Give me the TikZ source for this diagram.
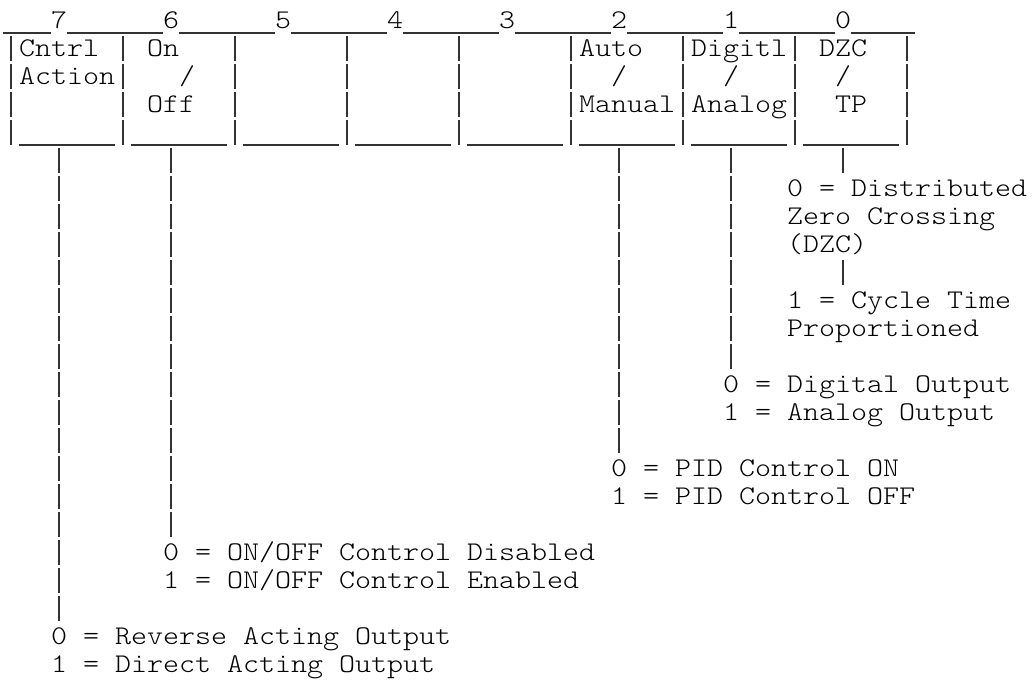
\documentclass[tikz,border=0pt]{standalone}
\usepackage{graphicx}
\newcommand\cw[1]{\scalebox{1.12875}[1]{#1}}
\tikzset{
  lbl/.style={inner sep=0pt, anchor=base west, text height=18pt, text depth=6pt,
    font=\ttfamily\fontseries{l}\fontsize{27}{28}\selectfont},
  rule/.style={line width=1.2pt, draw=black!80},
  lead/.style={rule, dash pattern=on 25pt off 3pt},
}
\begin{document}
\begin{tikzpicture}[x=1pt,y=-1pt]
\useasboundingbox (0,0) rectangle (1032,681);
% bit numbers
\node[lbl] (d7) at (51,28) {\cw{7}};
\node[lbl] (d6) at (163,28) {\cw{6}};
\node[lbl] (d5) at (275,28) {\cw{5}};
\node[lbl] (d4) at (387,28) {\cw{4}};
\node[lbl] (d3) at (499,28) {\cw{3}};
\node[lbl] (d2) at (611,28) {\cw{2}};
\node[lbl] (d1) at (723,28) {\cw{1}};
\node[lbl] (d0) at (835,28) {\cw{0}};
% top rule
\draw[rule] (3,33) -- (51,33);
\draw[rule] (67,33) -- (163,33);
\draw[rule] (179,33) -- (275,33);
\draw[rule] (291,33) -- (387,33);
\draw[rule] (403,33) -- (499,33);
\draw[rule] (515,33) -- (611,33);
\draw[rule] (627,33) -- (723,33);
\draw[rule] (739,33) -- (835,33);
\draw[rule] (851,33) -- (915,33);
% box sides and bottoms
\foreach \k in {0,...,8} \draw[lead] ({11+112*\k},36) -- ({11+112*\k},145);
\foreach \k in {0,...,7} \draw[rule] ({19+112*\k},145) -- ({115+112*\k},145);
% box labels
\node[lbl] (c7a) at (19,56) {\cw{Cntrl}};
\node[lbl] (c7b) at (19,84) {\cw{Action}};
\node[lbl] (c6a) at (147,56) {\cw{On}};
\node[lbl] (c6b) at (179,84) {\cw{/}};
\node[lbl] (c6c) at (147,112) {\cw{Off}};
\node[lbl] (c2a) at (579,56) {\cw{Auto}};
\node[lbl] (c2b) at (611,84) {\cw{/}};
\node[lbl] (c2c) at (579,112) {\cw{Manual}};
\node[lbl] (c1a) at (691,56) {\cw{Digitl}};
\node[lbl] (c1b) at (723,84) {\cw{/}};
\node[lbl] (c1c) at (691,112) {\cw{Analog}};
\node[lbl] (c0a) at (819,56) {\cw{DZC}};
\node[lbl] (c0b) at (835,84) {\cw{/}};
\node[lbl] (c0c) at (835,112) {\cw{TP}};
% legends
\node[lbl] (z0a) at (787,196) {\cw{0 = Distributed}};
\node[lbl] (z0b) at (787,224) {\cw{Zero Crossing}};
\node[lbl] (z0c) at (787,252) {\cw{(DZC)}};
\node[lbl] (z1a) at (787,308) {\cw{1 = Cycle Time}};
\node[lbl] (z1b) at (787,336) {\cw{Proportioned}};
\node[lbl] (a0) at (723,392) {\cw{0 = Digital Output}};
\node[lbl] (a1) at (723,420) {\cw{1 = Analog Output}};
\node[lbl] (p0) at (611,476) {\cw{0 = PID Control ON}};
\node[lbl] (p1) at (611,504) {\cw{1 = PID Control OFF}};
\node[lbl] (o0) at (163,560) {\cw{0 = ON/OFF Control Disabled}};
\node[lbl] (o1) at (163,588) {\cw{1 = ON/OFF Control Enabled}};
\node[lbl] (r0) at (51,644) {\cw{0 = Reverse Acting Output}};
\node[lbl] (r1) at (51,672) {\cw{1 = Direct Acting Output}};
% connector start points under the boxes
\coordinate (bit7) at (59,148);
\coordinate (bit6) at (171,148);
\coordinate (bit2) at (619,148);
\coordinate (bit1) at (731,148);
\coordinate (bit0) at (843,148);
% connectors
\draw[lead, shorten >=5pt] (bit7) -- (bit7 |- r0.north);
\draw[lead, shorten >=5pt] (bit6) -- (bit6 |- o0.north);
\draw[lead, shorten >=5pt] (bit2) -- (bit2 |- p0.north);
\draw[lead, shorten >=5pt] (bit1) -- (bit1 |- a0.north);
\draw[lead, shorten >=5pt] (bit0) -- (bit0 |- z0a.north);
\draw[lead, shorten <=2pt, shorten >=5pt] (bit0 |- z0c.south) -- (bit0 |- z1a.north);
\end{tikzpicture}
\end{document}
